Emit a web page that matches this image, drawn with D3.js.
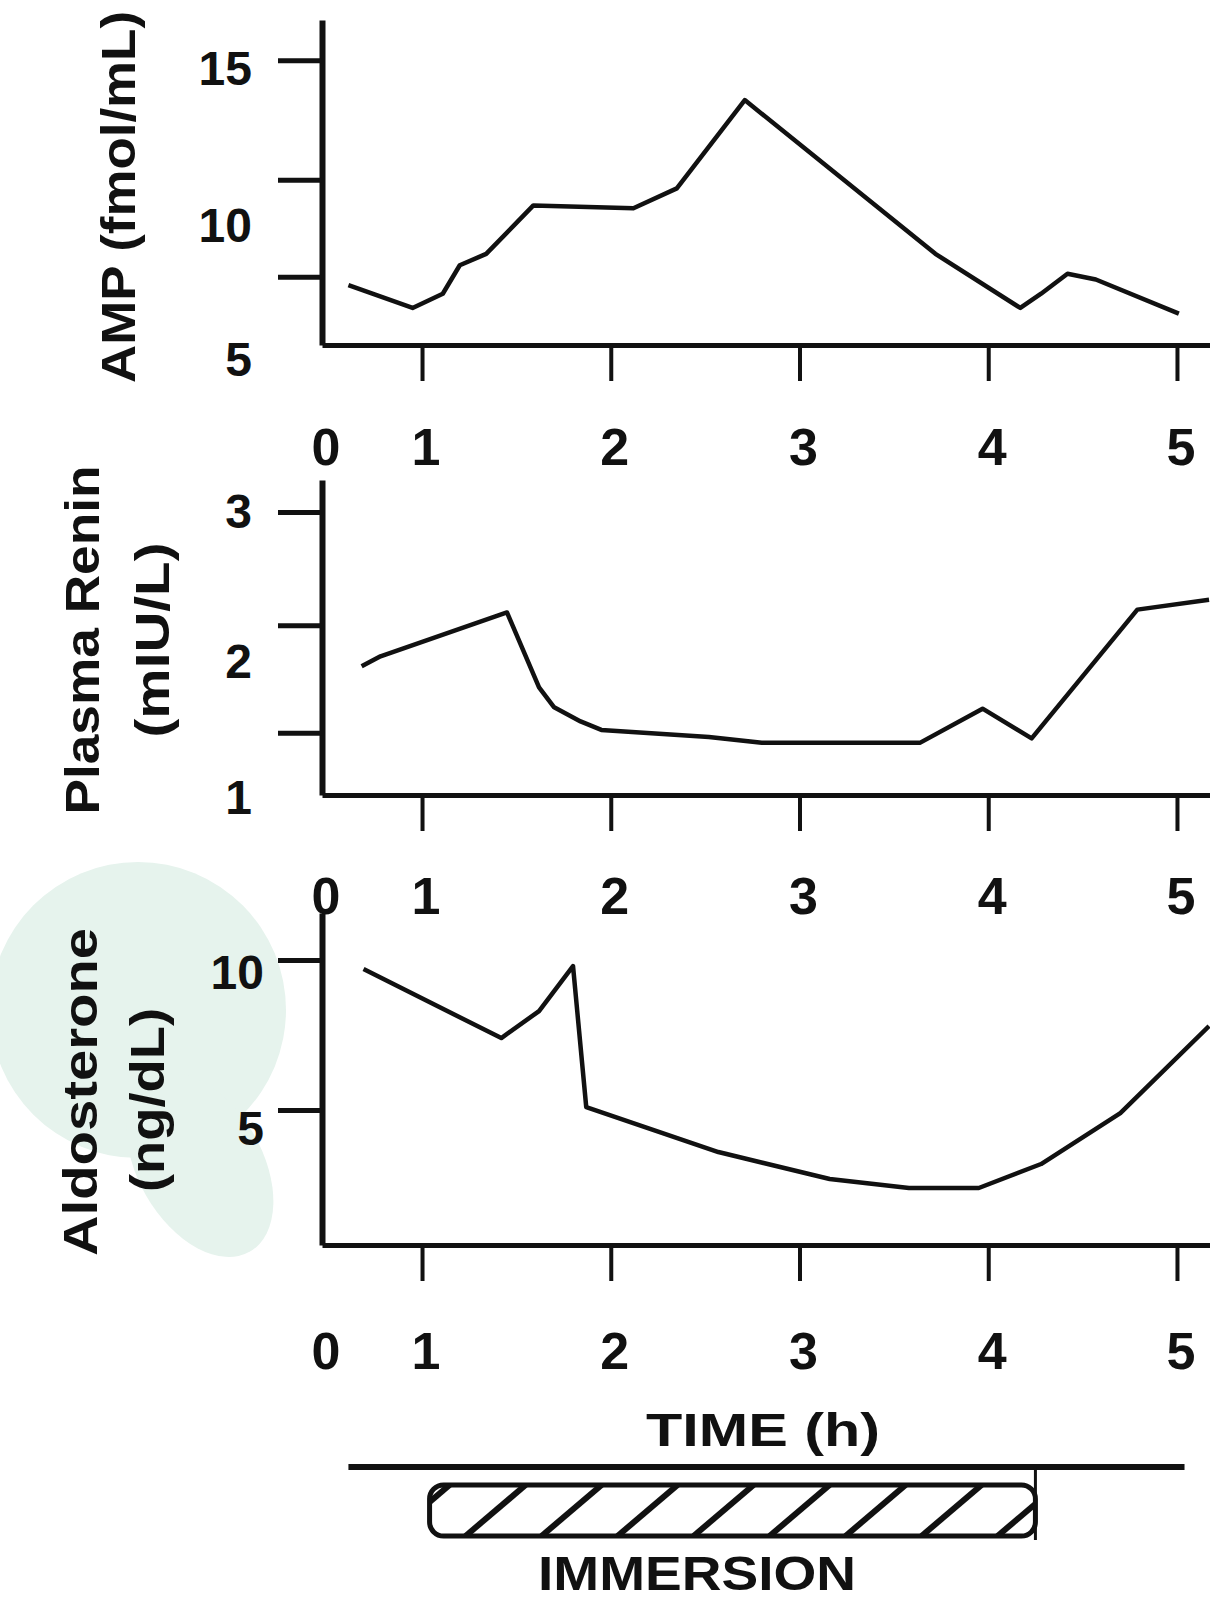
<!DOCTYPE html>
<html>
<head>
<meta charset="utf-8">
<script src="https://cdn.jsdelivr.net/npm/d3@7"></script>
<style>
body { margin: 0; background: #fff; }
svg { display: block; }
text { font-family: "Liberation Sans", Arial, "DejaVu Sans", sans-serif; font-weight: bold; fill: #111; }
</style>
</head>
<body>
<svg id="chart" width="1210" height="1607"></svg>
<script>
// time axis (h)
var timeTicks = [1, 2, 3, 4, 5];
var timeLabels = ["0", "1", "2", "3", "4", "5"];

// AMP (fmol/mL)
var ampTime  = [0.61, 0.95, 1.11, 1.20, 1.34, 1.59, 2.12, 2.35, 2.71, 3.72, 4.17, 4.28, 4.42, 4.57, 5.01];
var ampValue = [7.1, 6.3, 6.8, 7.8, 8.2, 9.9, 9.8, 10.5, 13.6, 8.2, 6.3, 6.8, 7.5, 7.3, 6.1];
var ampTickMarks = [15, 10.8, 7.4];
var ampTickLabels = ["15", "10", "5"];
var ampLabelAt = [14.7, 9.2, 4.5];

// Plasma renin (mIU/L)
var reninTime  = [0.68, 0.78, 1.45, 1.62, 1.70, 1.84, 1.95, 2.52, 2.80, 3.64, 3.97, 4.23, 4.79, 5.17];
var reninValue = [1.91, 1.98, 2.29, 1.76, 1.62, 1.52, 1.46, 1.41, 1.37, 1.37, 1.61, 1.40, 2.31, 2.38];
var reninTickMarks = [3, 2.2, 1.44];
var reninTickLabels = ["3", "2", "1"];
var reninLabelAt = [3.0, 1.94, 0.98];

// Aldosterone (ng/dL)
var aldoTime  = [0.69, 1.42, 1.62, 1.80, 1.87, 2.57, 3.16, 3.58, 3.95, 4.28, 4.70, 5.17];
var aldoValue = [9.7, 7.4, 8.3, 9.8, 5.1, 3.6, 2.7, 2.4, 2.4, 3.2, 4.9, 7.8];
var aldoTickMarks = [10, 5];
var aldoTickLabels = ["10", "5"];
var aldoLabelAt = [9.57, 4.4];

// immersion period and observation line (h)
var timelineSpan = [0.61, 5.04];
var immersionSpan = [1.04, 4.25];

var svg = d3.select("#chart");
var axisX = 322;

var x = d3.scaleLinear().domain([0.47, 5.175]).range([axisX, 1210]);

// pale watermark behind the bottom panel labels
var wm = svg.append("g").attr("fill", "#e6f3ed");
wm.append("circle").attr("cx", 138).attr("cy", 1010).attr("r", 148);
wm.append("ellipse")
    .attr("transform", "translate(200,1165) rotate(60)")
    .attr("rx", 100).attr("ry", 62);

var panels = [
    { time: ampTime, value: ampValue, marks: ampTickMarks, labels: ampTickLabels, labelAt: ampLabelAt,
      domain: [5, 16.41], bottom: 345, top: 20, labelRight: 252, xlabOffset: 102,
      titles: [{ text: "AMP (fmol/mL)", x: 118, y: 197, len: 372 }] },
    { time: reninTime, value: reninValue, marks: reninTickMarks, labels: reninTickLabels, labelAt: reninLabelAt,
      domain: [1, 3.226], bottom: 795, top: 480, labelRight: 252, xlabOffset: 101,
      titles: [{ text: "Plasma Renin", x: 82, y: 640, len: 349 },
               { text: "(mIU/L)", x: 152, y: 640, len: 195 }] },
    { time: aldoTime, value: aldoValue, marks: aldoTickMarks, labels: aldoTickLabels, labelAt: aldoLabelAt,
      domain: [0.5, 11.57], bottom: 1245, top: 913, labelRight: 264, xlabOffset: 106,
      titles: [{ text: "Aldosterone", x: 80, y: 1092, len: 328 },
               { text: "(ng/dL)", x: 147, y: 1100, len: 184 }] }
];

panels.forEach(function (p) {
    var y = d3.scaleLinear().domain(p.domain).range([p.bottom, p.top]);
    var g = svg.append("g");

    var yAxis = g.append("g")
        .attr("transform", "translate(" + axisX + ",0)")
        .call(d3.axisLeft(y).tickValues(p.marks).tickSize(44).tickSizeOuter(0).tickFormat(""));
    yAxis.select(".domain").attr("stroke", "#111").attr("stroke-width", 6);
    yAxis.selectAll(".tick line").attr("stroke", "#111").attr("stroke-width", 5);

    var xAxis = g.append("g")
        .attr("transform", "translate(0," + p.bottom + ")")
        .call(d3.axisBottom(x).tickValues(timeTicks).tickSize(36).tickSizeOuter(0).tickFormat(""));
    xAxis.select(".domain").attr("stroke", "#111").attr("stroke-width", 5);
    xAxis.selectAll(".tick line").attr("stroke", "#111").attr("stroke-width", 4);

    // y tick labels
    g.selectAll(".ylab")
        .data(p.labels)
        .enter().append("text")
        .attr("class", "ylab")
        .attr("x", p.labelRight)
        .attr("y", function (d, i) { return y(p.labelAt[i]); })
        .attr("text-anchor", "end")
        .attr("dominant-baseline", "central")
        .style("font-size", "48px")
        .text(function (d) { return d; });

    // x tick labels, "0" sits at the origin
    g.selectAll(".xlab")
        .data(timeLabels)
        .enter().append("text")
        .attr("class", "xlab")
        .attr("x", function (d, i) { return i == 0 ? x(x.domain()[0]) + 4 : x(timeTicks[i - 1]) + 4; })
        .attr("y", p.bottom + p.xlabOffset)
        .attr("text-anchor", "middle")
        .attr("dominant-baseline", "central")
        .style("font-size", "52px")
        .text(function (d) { return d; });

    // rotated axis titles
    p.titles.forEach(function (t) {
        g.append("text")
            .attr("transform", "translate(" + t.x + "," + t.y + ") rotate(-90)")
            .attr("text-anchor", "middle")
            .attr("dominant-baseline", "central")
            .attr("textLength", t.len)
            .attr("lengthAdjust", "spacingAndGlyphs")
            .style("font-size", "48px")
            .text(t.text);
    });

    var pts = p.time.map(function (t, i) { return { t: t, v: p.value[i] }; });
    var line = d3.line()
        .x(function (d) { return x(d.t); })
        .y(function (d) { return y(d.v); });

    g.append("path")
        .datum(pts)
        .attr("d", line)
        .attr("fill", "none")
        .attr("stroke", "#111")
        .attr("stroke-width", 4.5)
        .attr("stroke-linejoin", "round");
});

// time title
svg.append("text")
    .attr("x", 763)
    .attr("y", 1430)
    .attr("text-anchor", "middle")
    .attr("dominant-baseline", "central")
    .attr("textLength", 234)
    .attr("lengthAdjust", "spacingAndGlyphs")
    .style("font-size", "46px")
    .text("TIME (h)");

// observation line
var lineY = 1467;
svg.append("line")
    .attr("x1", x(timelineSpan[0])).attr("x2", x(timelineSpan[1]))
    .attr("y1", lineY).attr("y2", lineY)
    .attr("stroke", "#111").attr("stroke-width", 6);

// immersion bar
var bx0 = x(immersionSpan[0]), bx1 = x(immersionSpan[1]);
var by0 = 1485, by1 = 1536;

svg.append("clipPath").attr("id", "barClip")
    .append("rect")
    .attr("x", bx0).attr("y", by0).attr("width", bx1 - bx0).attr("height", by1 - by0)
    .attr("rx", 14);

var hatch = svg.append("g").attr("clip-path", "url(#barClip)");
d3.range(bx0 - 40, bx1 + 60, 76).forEach(function (hx) {
    hatch.append("line")
        .attr("x1", hx).attr("y1", by1)
        .attr("x2", hx + 60).attr("y2", by0)
        .attr("stroke", "#111").attr("stroke-width", 6);
});

svg.append("rect")
    .attr("x", bx0).attr("y", by0).attr("width", bx1 - bx0).attr("height", by1 - by0)
    .attr("rx", 14)
    .attr("fill", "none").attr("stroke", "#111").attr("stroke-width", 5);

svg.append("line")
    .attr("x1", bx1).attr("x2", bx1)
    .attr("y1", lineY).attr("y2", by1 + 4)
    .attr("stroke", "#111").attr("stroke-width", 3);

svg.append("text")
    .attr("x", 697)
    .attr("y", 1573)
    .attr("text-anchor", "middle")
    .attr("dominant-baseline", "central")
    .attr("textLength", 318)
    .attr("lengthAdjust", "spacingAndGlyphs")
    .style("font-size", "48px")
    .text("IMMERSION");
</script>
</body>
</html>
